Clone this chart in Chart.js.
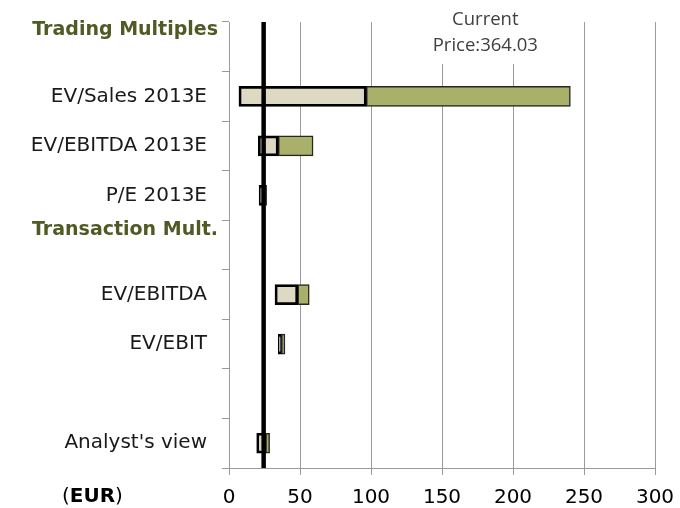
<!DOCTYPE html>
<html>
<head>
<meta charset="utf-8">
<script src="https://cdn.jsdelivr.net/npm/chart.js@4"></script>
<style>
  html, body { margin: 0; padding: 0; background: #fff; }
  #wrap { width: 680px; height: 508px; }
</style>
</head>
<body>
<div id="wrap"><canvas id="c" width="680" height="508"></canvas></div>
<script>
// ---- data ----
const categories = ['Trading Multiples', 'EV/Sales 2013E', 'EV/EBITDA 2013E', 'P/E 2013E', 'Transaction Mult.', 'EV/EBITDA', 'EV/EBIT', '', "Analyst's view"];
const headerRows = ['Trading Multiples', 'Transaction Mult.'];
const lowValues  = [null, 7.0,  20.6, 21.2, null, 32.4, 34.7, null, 19.5];
const midValues  = [null, 96.7, 34.7, 24.0, null, 48.4, 36.9, null, 25.8];
const highValues = [null, 240.4, 59.2, 26.5, null, 56.5, 39.4, null, 28.6];
const currentPriceLine = 24.4;
const currentPriceLabel = ['Current', 'Price:364.03'];
const xMin = 0, xMax = 300, xStep = 50;
const unitLabel = 'EUR';

const lowerRange = categories.map((c, i) => lowValues[i] == null ? null : [lowValues[i], midValues[i]]);
const upperRange = categories.map((c, i) => midValues[i] == null ? null : [midValues[i], highValues[i]]);

const decorPlugin = {
  id: 'decor',
  afterDatasetsDraw(chart) {
    const ctx = chart.ctx;
    const xs = chart.scales.x, ys = chart.scales.y;
    const area = chart.chartArea;
    ctx.save();
    // current price line
    const px = xs.getPixelForValue(currentPriceLine);
    ctx.strokeStyle = '#000';
    ctx.lineWidth = 4.5;
    ctx.beginPath();
    ctx.moveTo(px, area.top);
    ctx.lineTo(px, area.bottom);
    ctx.stroke();
    // label box
    const cx = xs.getPixelForValue(180.5);
    ctx.fillStyle = '#fff';
    ctx.fillRect(cx - 62, 4, 124, 60);
    ctx.fillStyle = '#404040';
    ctx.font = '18.5px "Open Sans"';
    ctx.textAlign = 'center';
    ctx.textBaseline = 'middle';
    ctx.fillText(currentPriceLabel[0], cx, 20);
    ctx.fillText(currentPriceLabel[1], cx, 46);
    // header rows
    ctx.font = 'bold 19px "DejaVu Sans"';
    ctx.fillStyle = '#4F5A25';
    ctx.textAlign = 'right';
    const offsets = [-17, -15];
    headerRows.forEach((h, k) => {
      const idx = categories.indexOf(h);
      const y = ys.getPixelForValue(idx) + offsets[k];
      ctx.fillText(h, 218, y);
    });
    // unit label
    ctx.textAlign = 'left';
    ctx.fillStyle = '#000';
    let x = 62;
    const yy = 497;
    ctx.font = '20px "DejaVu Sans"';
    ctx.fillText('(', x, yy); x += ctx.measureText('(').width;
    ctx.font = 'bold 20px "DejaVu Sans"';
    ctx.fillText(unitLabel, x, yy); x += ctx.measureText(unitLabel).width;
    ctx.font = '20px "DejaVu Sans"';
    ctx.fillText(')', x, yy);
    ctx.restore();
  }
};

new Chart(document.getElementById('c'), {
  type: 'bar',
  data: {
    labels: categories,
    datasets: [
      {
        label: 'low',
        data: lowerRange,
        backgroundColor: '#DDD9C3',
        borderColor: '#000',
        borderWidth: 2.7,
        borderSkipped: false,
        grouped: false,
        barThickness: 20,
        order: 0
      },
      {
        label: 'high',
        data: upperRange,
        backgroundColor: '#A9B06A',
        borderColor: '#262626',
        borderWidth: 1.5,
        borderSkipped: false,
        grouped: false,
        barThickness: 20,
        order: 1
      }
    ]
  },
  options: {
    indexAxis: 'y',
    responsive: false,
    animation: false,
    layout: { padding: { top: 22, right: 25, left: 0, bottom: 0 } },
    plugins: { legend: { display: false }, tooltip: { enabled: false } },
    scales: {
      x: {
        min: xMin, max: xMax,
        ticks: { stepSize: xStep, color: '#000', font: { family: 'DejaVu Sans', size: 20 }, padding: 11 },
        grid: { color: '#9a9a9a', lineWidth: 1, tickLength: 7, drawTicks: true },
        border: { color: '#9a9a9a', width: 1 },
        afterFit(s) { s.height = 40; s.paddingLeft = 0; s.paddingRight = 0; }
      },
      y: {
        ticks: {
          color: '#1a1a1a',
          font: { family: 'DejaVu Sans', size: 20 },
          padding: 15,
          autoSkip: false,
          callback(v, i) { const l = categories[i]; return headerRows.includes(l) ? '' : l; }
        },
        grid: { drawOnChartArea: false, drawTicks: true, tickLength: 7, color: '#9a9a9a', offset: true },
        border: { color: '#9a9a9a', width: 1 },
        afterFit(s) { s.width = 229; s.paddingTop = 0; s.paddingBottom = 0; }
      }
    }
  },
  plugins: [decorPlugin]
});
</script>
</body>
</html>
